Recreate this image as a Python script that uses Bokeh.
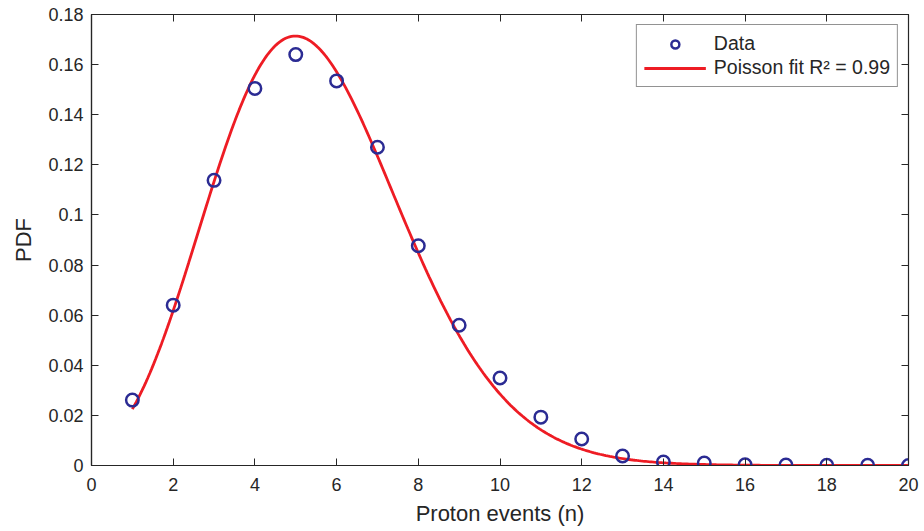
import math
from bokeh.plotting import figure
from bokeh.models import FixedTicker, LinearAxis, Range1d, Legend, LegendItem
from bokeh.embed import file_html
from bokeh.resources import INLINE

# Observed data
n_events = list(range(1, 21))
pdf_values = [0.0261, 0.0640, 0.1138, 0.1505, 0.1640, 0.1535, 0.1270, 0.0877,
              0.0560, 0.0349, 0.0193, 0.0106, 0.0038, 0.0014, 0.0010, 0.0003,
              0.0002, 0.0001, 0.0001, 0.0000]

# Poisson fit parameter (mean)
fit_lambda = 5.5
fit_start, fit_end = 1.0, 20.0

x_ticks = [0, 2, 4, 6, 8, 10, 12, 14, 16, 18, 20]
y_ticks = [0, 0.02, 0.04, 0.06, 0.08, 0.1, 0.12, 0.14, 0.16, 0.18]
y_tick_labels = ["0", "0.02", "0.04", "0.06", "0.08", "0.1", "0.12", "0.14", "0.16", "0.18"]

# continuous Poisson fit curve
fit_x = [fit_start + i * (fit_end - fit_start) / 400 for i in range(401)]
fit_y = [math.exp(x * math.log(fit_lambda) - fit_lambda - math.lgamma(x + 1)) for x in fit_x]

FONT = "Liberation Sans"
TXT = "#262626"

p = figure(width=924, height=531, output_backend="svg", toolbar_location=None,
           x_range=Range1d(0, 20), y_range=Range1d(0, 0.18),
           min_border_left=91, min_border_right=16, min_border_top=14, min_border_bottom=66)
p.grid.visible = False
p.outline_line_color = TXT
p.outline_line_width = 1.2

line_r = p.line(fit_x, fit_y, line_color="#ee1c24", line_width=2.8)
circ_r = p.scatter(n_events, pdf_values, marker="circle", size=12.5, fill_color=None,
                   line_color="#2b2b93", line_width=2.5)

for ax in p.xaxis:
    ax.ticker = FixedTicker(ticks=x_ticks)
for ax in p.yaxis:
    ax.ticker = FixedTicker(ticks=y_ticks)
    ax.major_label_overrides = {t: l for t, l in zip(y_ticks, y_tick_labels)}

for ax in p.xaxis + p.yaxis:
    ax.major_tick_in = 7
    ax.major_tick_out = 0
    ax.minor_tick_line_color = None
    ax.axis_line_color = TXT
    ax.axis_line_width = 1.2
    ax.major_tick_line_color = TXT
    ax.major_label_text_font = FONT
    ax.major_label_text_font_size = "18px"
    ax.major_label_text_color = TXT
    ax.axis_label_text_font = FONT
    ax.axis_label_text_font_size = "22px"
    ax.axis_label_text_font_style = "normal"
    ax.axis_label_text_color = TXT

p.xaxis.axis_label = "Proton events (n)"
p.yaxis.axis_label = "PDF"
p.xaxis.major_label_standoff = 12
p.yaxis.major_label_standoff = 8
p.xaxis.axis_label_standoff = 7
p.yaxis.axis_label_standoff = 9

top = LinearAxis(ticker=FixedTicker(ticks=x_ticks), major_tick_in=7, major_tick_out=0,
                 minor_tick_line_color=None, major_label_text_font_size="1px",
                 major_label_overrides={t: "" for t in x_ticks},
                 axis_line_color=TXT, major_tick_line_color=TXT, major_label_standoff=0)
right = LinearAxis(ticker=FixedTicker(ticks=y_ticks), major_tick_in=7, major_tick_out=0,
                   minor_tick_line_color=None, major_label_text_font_size="1px",
                   major_label_overrides={t: "" for t in y_ticks},
                   axis_line_color=TXT, major_tick_line_color=TXT, major_label_standoff=0)
p.add_layout(top, "above")
p.add_layout(right, "right")

legend = Legend(items=[LegendItem(label="Data", renderers=[circ_r]),
                       LegendItem(label="Poisson fit R\u00b2 = 0.99", renderers=[line_r])],
                location="top_right", margin=10)
legend.label_text_font = FONT
legend.label_text_font_size = "19.5px"
legend.label_text_color = TXT
legend.border_line_color = TXT
legend.border_line_width = 1
legend.glyph_width = 62
legend.glyph_height = 20
legend.label_height = 20
legend.spacing = 1
legend.padding = 7
legend.label_standoff = 8
legend.background_fill_alpha = 1
p.add_layout(legend, "center")

open("out.html", "w").write(file_html(p, INLINE))
